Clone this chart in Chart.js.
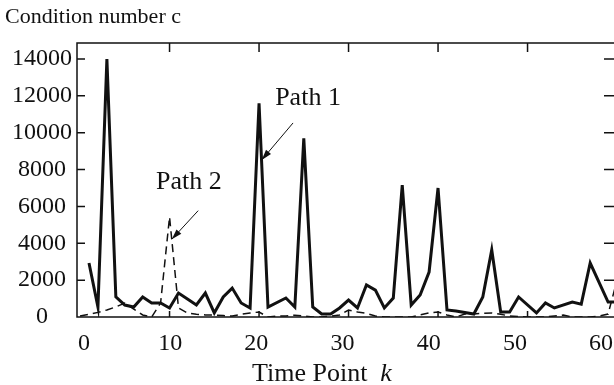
<!DOCTYPE html>
<html>
<head>
<meta charset="utf-8">
<script src="https://cdn.jsdelivr.net/npm/chart.js@4.4.0/dist/chart.umd.min.js"></script>
<style>
  html, body { margin: 0; padding: 0; background: #fff; }
</style>
</head>
<body>
<canvas id="chart" width="614" height="385"></canvas>
<script>
const SERIF = '"Liberation Serif", "DejaVu Serif", serif';
const INK = '#111';

// Path 1 (solid): time point k and condition number c
const path1K = [1, 2, 3, 4, 5, 6, 7, 8, 9, 10, 11, 12, 13, 14, 15, 16, 17, 18, 19, 20,
  21, 23, 24, 25, 26, 27, 28, 29, 30, 31, 32, 33, 34, 35, 36, 37, 38, 39, 40,
  41, 42, 44, 45, 46, 47, 48, 49, 51, 52, 53, 55, 56, 57, 59, 60];
const path1C = [2930, 540, 14000, 1100, 650, 540, 1085, 760, 760, 490, 1300, 980, 650, 1300, 220, 1085, 1570, 760, 490, 11600,
  540, 1030, 540, 9700, 540, 160, 160, 490, 920, 490, 1740, 1460, 490, 1030, 7150, 650, 1190, 2440, 7000,
  380, 330, 160, 1085, 3640, 270, 270, 1085, 220, 760, 490, 810, 700, 2930, 810, 810];

// Path 2 (dashed)
const path2K = [0, 1, 2, 3, 4, 5, 6, 7, 8, 9, 10, 11, 12, 13, 14, 15, 16, 17, 18, 19, 20,
  21, 22, 23, 24, 25, 26, 27, 28, 29, 30, 31, 32, 33, 34, 35, 36, 37, 38, 39, 40,
  41, 42, 43, 44, 45, 46, 47, 48, 49, 50, 51, 52, 53, 54, 55, 56, 57, 58, 59, 60];
const path2C = [50, 150, 250, 380, 550, 760, 430, 110, 0, 760, 5430, 490, 220, 150, 110, 110, 80, 50, 150, 220, 270,
  0, 50, 50, 100, 50, 0, 0, 50, 110, 380, 270, 200, 50, 0, 0, 0, 0, 110, 220, 270,
  110, 0, 160, 160, 200, 220, 150, 50, 30, 0, 0, 0, 60, 110, 0, 0, 0, 50, 160, 2000];

const xTicks = [0, 10, 20, 30, 40, 50, 60];
const yTicks = [0, 2000, 4000, 6000, 8000, 10000, 12000, 14000];

// annotation anchors, in data units
const notes = [
  { text: 'Path 1', at: [21.8, 11500], from: [23.8, 10530], to: [20.3, 8520] },
  { text: 'Path 2', at: [8.5, 6945], from: [13.2, 5770], to: [10.25, 4215] },
];

const frame = {
  id: 'frame',
  beforeDatasetsDraw(chart) {
    const { ctx, chartArea: a, scales: { x, y } } = chart;
    ctx.save();
    ctx.strokeStyle = INK;
    ctx.lineWidth = 1.5;
    ctx.beginPath();
    ctx.moveTo(a.right, a.top); ctx.lineTo(a.left, a.top);
    ctx.lineTo(a.left, a.bottom); ctx.lineTo(a.right, a.bottom);
    xTicks.slice(1).forEach(v => {
      const px = x.getPixelForValue(v);
      if (px > a.right - 2) return;
      ctx.moveTo(px, a.top); ctx.lineTo(px, a.top + 9);
      ctx.moveTo(px, a.bottom); ctx.lineTo(px, a.bottom - 6);
    });
    yTicks.slice(1).forEach(v => {
      const py = y.getPixelForValue(v);
      ctx.moveTo(a.left, py); ctx.lineTo(a.left + 8, py);
      ctx.moveTo(a.right, py); ctx.lineTo(a.right - 10, py);
    });
    ctx.stroke();
    ctx.restore();
  },
  afterDraw(chart) {
    const { ctx, chartArea: a, scales: { x, y } } = chart;
    ctx.save();
    ctx.fillStyle = INK;
    ctx.strokeStyle = INK;
    ctx.textBaseline = 'alphabetic';
    ctx.textAlign = 'left';

    ctx.font = '22px ' + SERIF;
    ctx.fillText('Condition number c', 5, 23);

    ctx.font = '26px ' + SERIF;
    const tx = a.left + 175;
    ctx.fillText('Time Point', tx, 381);
    const w = ctx.measureText('Time Point').width;
    ctx.font = 'italic 26px ' + SERIF;
    ctx.fillText('k', tx + w + 13, 381);

    ctx.font = '26px ' + SERIF;
    ctx.lineWidth = 1;
    notes.forEach(n => {
      ctx.fillText(n.text, x.getPixelForValue(n.at[0]), y.getPixelForValue(n.at[1]));
      const x0 = x.getPixelForValue(n.from[0]), y0 = y.getPixelForValue(n.from[1]);
      const x1 = x.getPixelForValue(n.to[0]), y1 = y.getPixelForValue(n.to[1]);
      const ang = Math.atan2(y1 - y0, x1 - x0);
      ctx.beginPath();
      ctx.moveTo(x0, y0); ctx.lineTo(x1, y1);
      ctx.stroke();
      ctx.beginPath();
      ctx.moveTo(x1, y1);
      ctx.lineTo(x1 - 11 * Math.cos(ang - 0.3), y1 - 11 * Math.sin(ang - 0.3));
      ctx.lineTo(x1 - 11 * Math.cos(ang + 0.3), y1 - 11 * Math.sin(ang + 0.3));
      ctx.closePath();
      ctx.fill();
    });
    ctx.restore();
  }
};

new Chart(document.getElementById('chart'), {
  type: 'scatter',
  data: {
    datasets: [
      {
        label: 'Path 1',
        data: path1K.map((k, i) => ({ x: k, y: path1C[i] })),
        showLine: true,
        borderColor: INK,
        borderWidth: 3,
        pointRadius: 0,
        tension: 0,
        xAxisID: 'x',
        yAxisID: 'y',
      },
      {
        label: 'Path 2',
        data: path2K.map((k, i) => ({ x: k, y: path2C[i] })),
        showLine: true,
        borderColor: INK,
        borderWidth: 1.5,
        borderDash: [8, 5],
        pointRadius: 0,
        tension: 0,
        xAxisID: 'x',
        yAxisID: 'y',
      },
    ],
  },
  options: {
    responsive: false,
    animation: false,
    layout: { padding: { top: 43, left: 0, right: 0, bottom: 0 } },
    plugins: { legend: { display: false }, tooltip: { enabled: false } },
    scales: {
      x: { type: 'linear', display: false, min: -0.34, max: 59.66 },
      xk: {
        type: 'linear',
        position: 'bottom',
        min: -0.81,
        max: 61.5,
        grid: { display: false, drawTicks: false },
        border: { display: false },
        ticks: { color: INK, padding: 12, maxRotation: 0, font: { family: SERIF, size: 24 }, callback: v => String(v) },
        afterBuildTicks: s => { s.ticks = xTicks.map(v => ({ value: v })); },
        afterFit: s => { s.height = 68; s.paddingLeft = 0; s.paddingRight = 0; },
      },
      y: {
        type: 'linear',
        min: 0,
        max: 14868,
        grid: { display: false, drawTicks: false },
        border: { display: false },
        ticks: { color: INK, padding: 5, crossAlign: 'center', font: { family: SERIF, size: 24 }, callback: v => String(v) },
        afterBuildTicks: s => { s.ticks = yTicks.map(v => ({ value: v })); },
        afterFit: s => { s.width = 77; },
      },
    },
  },
  plugins: [frame],
});
</script>
</body>
</html>
